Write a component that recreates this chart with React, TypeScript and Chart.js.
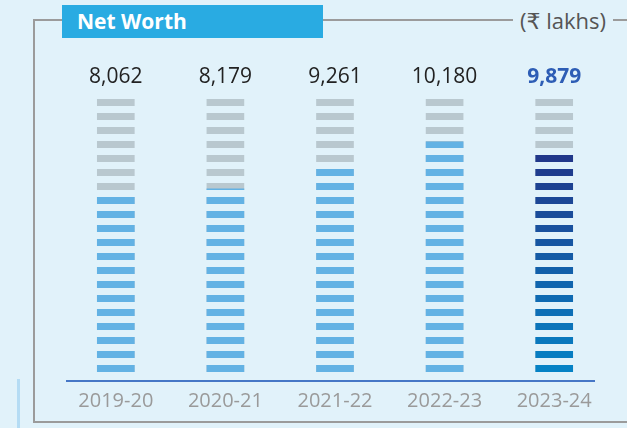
import React, { useEffect, useRef } from "react";
import { Chart, registerables } from "chart.js";

Chart.register(...registerables);

const categories = ["2019-20", "2020-21", "2021-22", "2022-23", "2023-24"];
const netWorth = [8062, 8179, 9261, 10180, 9879];
const valueLabels = ["8,062", "8,179", "9,261", "10,180", "9,879"];
const trackValues = [12000, 12000, 12000, 12000, 12000];
const yMin = 0;
const yMax = 12000;

const BG = "#E1F2FA";
const FONT = "'Open Sans', 'DejaVu Sans', sans-serif";

function lerpColor(a: number[], b: number[], t: number) {
  const c = a.map((v, i) => Math.round(v + (b[i] - v) * t));
  return `rgb(${c[0]},${c[1]},${c[2]})`;
}

function makeStripes(chart: any, colorAt: (y: number) => string) {
  const yScale = chart.scales.y;
  const z = Math.round(yScale.getPixelForValue(0));
  const c = document.createElement("canvas");
  c.width = 8;
  c.height = Math.ceil(chart.height);
  const g = c.getContext("2d")!;
  for (let top = z - 16; top > -8; top -= 14) {
    g.fillStyle = colorAt(top);
    g.fillRect(0, top, 8, 7);
  }
  return chart.ctx.createPattern(c, "repeat");
}

const cache: Record<string, any> = {};

function bluePattern(ctx: any) {
  const chart = ctx.chart;
  if (!chart.chartArea || !chart.scales.y) return "#63B2E4";
  const i = ctx.dataIndex ?? 0;
  const last = i === netWorth.length - 1;
  const key = (last ? "g" : "b") + chart.chartArea.bottom + "_" + chart.chartArea.top;
  if (!cache[key]) {
    if (last) {
      const yTop = chart.scales.y.getPixelForValue(netWorth[i]);
      const yBot = chart.scales.y.getPixelForValue(0);
      const top = [34, 54, 136];
      const bot = [3, 136, 202];
      cache[key] = makeStripes(chart, (y) => {
        const t = Math.max(0, Math.min(1, (y - yTop) / (yBot - yTop)));
        return lerpColor(top, bot, t);
      });
    } else {
      cache[key] = makeStripes(chart, () => "#63B2E4");
    }
  }
  return cache[key];
}

function grayPattern(ctx: any) {
  const chart = ctx.chart;
  if (!chart.chartArea || !chart.scales.y) return "#B9C8CF";
  const key = "gray" + chart.chartArea.bottom + "_" + chart.chartArea.top;
  if (!cache[key]) cache[key] = makeStripes(chart, () => "#B9C8CF");
  return cache[key];
}

const decorPlugin = {
  id: "decor",
  beforeDatasetsDraw(chart: any) {
    const { ctx, chartArea } = chart;
    ctx.save();
    ctx.strokeStyle = "#4677C6";
    ctx.lineWidth = 2;
    ctx.beginPath();
    ctx.moveTo(chartArea.left + 5, chartArea.bottom);
    ctx.lineTo(chartArea.right - 14, chartArea.bottom);
    ctx.stroke();
    ctx.restore();
  },
  afterDatasetsDraw(chart: any) {
    const { ctx, chartArea } = chart;
    const xs = chart.scales.x;
    ctx.save();
    ctx.textAlign = "center";
    ctx.textBaseline = "alphabetic";
    valueLabels.forEach((lbl, i) => {
      const last = i === valueLabels.length - 1;
      ctx.font = `${last ? "bold " : ""}21px ${FONT}`;
      ctx.fillStyle = last ? "#2D5DB5" : "#222222";
      ctx.fillText(lbl, xs.getPixelForValue(i), chartArea.top - 16);
    });
    ctx.restore();
  },
};

function NetWorthChart() {
  const ref = useRef<HTMLCanvasElement | null>(null);
  useEffect(() => {
    if (!ref.current) return;
    const chart = new Chart(ref.current, {
      type: "bar",
      data: {
        labels: categories,
        datasets: [
          {
            label: "Net Worth",
            data: netWorth,
            backgroundColor: bluePattern as any,
            borderWidth: 0,
            barThickness: 37,
            grouped: false,
          } as any,
          {
            label: "Track",
            data: trackValues,
            backgroundColor: grayPattern as any,
            borderWidth: 0,
            barThickness: 37,
            grouped: false,
          } as any,
        ],
      },
      options: {
        animation: false,
        responsive: false,
        maintainAspectRatio: false,
        layout: { padding: { left: 61, right: 18, top: 99, bottom: 7 } },
        plugins: {
          legend: { display: false },
          tooltip: { enabled: false },
          title: { display: false },
        },
        scales: {
          x: {
            grid: { display: false, drawTicks: false },
            border: { display: false },
            ticks: {
              color: "#9A9A9A",
              font: { family: FONT, size: 20 },
              padding: 8,
            },
          },
          y: {
            display: false,
            min: yMin,
            max: yMax,
          },
        },
      },
      plugins: [decorPlugin],
    });
    return () => chart.destroy();
  }, []);
  return (
    <canvas
      ref={ref}
      width={627}
      height={428}
      style={{ position: "absolute", left: 0, top: 0, width: 627, height: 428 }}
    />
  );
}

export default function App() {
  useEffect(() => {
    document.body.style.margin = "0";
    document.body.style.background = BG;
  }, []);
  return (
    <div
      style={{
        position: "fixed",
        left: 0,
        top: 0,
        width: 627,
        height: 428,
        background: BG,
        overflow: "hidden",
        fontFamily: FONT,
      }}
    >
      <div style={{ position: "absolute", left: 17, top: 379, width: 3, height: 60, background: "#B5DCF4" }} />
      <div
        style={{
          position: "absolute",
          left: 33,
          top: 19,
          width: 800,
          height: 404,
          border: "2px solid #9B9B9B",
          boxSizing: "border-box",
        }}
      />
      <div
        style={{
          position: "absolute",
          left: 62,
          top: 5,
          width: 261,
          height: 33,
          background: "#29ABE2",
          color: "#FFFFFF",
          fontWeight: 700,
          fontSize: 21,
          lineHeight: "33px",
          paddingLeft: 15,
          boxSizing: "border-box",
        }}
      >
        Net Worth
      </div>
      <div
        style={{
          position: "absolute",
          left: 513,
          top: 5,
          padding: "0 7px",
          background: BG,
          color: "#555555",
          fontSize: 22,
          lineHeight: "30px",
        }}
      >
        (₹ lakhs)
      </div>
      <NetWorthChart />
    </div>
  );
}
